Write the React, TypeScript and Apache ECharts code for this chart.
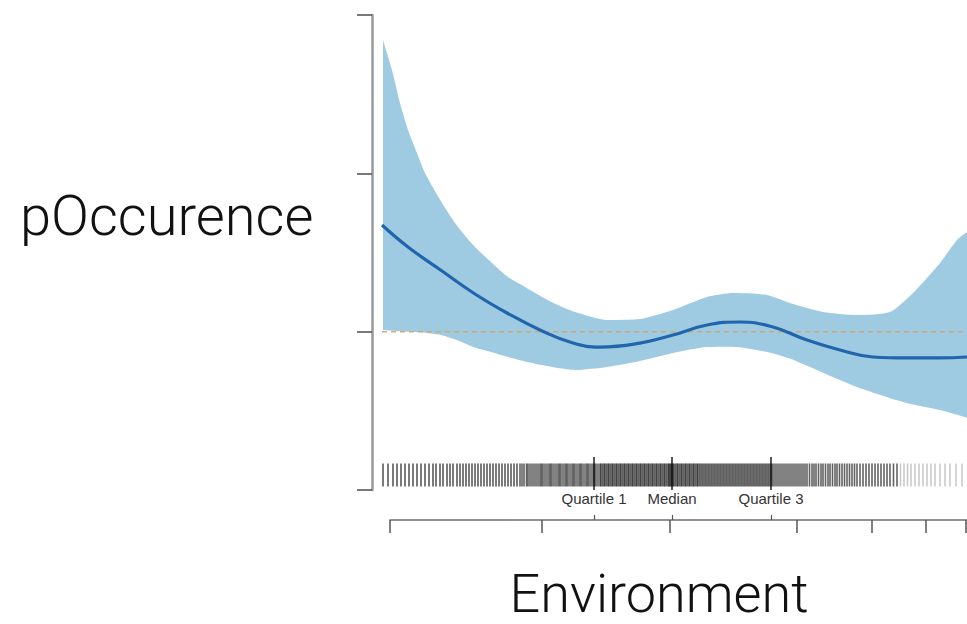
import React, { useEffect, useRef } from "react";
import * as echarts from "echarts";

// x positions are in environment units (0..587 across the plot)
const bandX = [3, 12, 20, 28, 37, 45, 62, 78, 95, 112, 128, 145, 162, 178, 195, 227, 260, 293, 327, 353, 387, 410, 443, 477, 510, 533, 560, 577, 587];
const bandUpper = [2.842, 2.653, 2.444, 2.274, 2.128, 2.002, 1.813, 1.661, 1.535, 1.434, 1.345, 1.282, 1.219, 1.168, 1.124, 1.074, 1.08, 1.137, 1.219, 1.244, 1.232, 1.181, 1.124, 1.105, 1.124, 1.244, 1.434, 1.579, 1.629];
const bandLower = [1.011, 1.006, 1.003, 1.0, 0.998, 0.993, 0.978, 0.945, 0.9, 0.87, 0.84, 0.812, 0.789, 0.77, 0.758, 0.777, 0.815, 0.865, 0.903, 0.905, 0.872, 0.83, 0.74, 0.65, 0.58, 0.54, 0.505, 0.475, 0.455];

const lineX = [2, 28, 62, 95, 127, 160, 193, 220, 260, 293, 327, 360, 393, 427, 460, 493, 527, 560, 587];
const lineY = [1.674, 1.535, 1.383, 1.238, 1.118, 1.011, 0.928, 0.903, 0.928, 0.979, 1.042, 1.061, 1.029, 0.947, 0.884, 0.84, 0.834, 0.834, 0.84];

const baselineY = 1;

const rugSparse = [3, 8, 13, 17, 21, 25, 29, 33, 37, 41, 45, 49, 53, 56, 60, 63, 67, 70, 73, 77, 80, 83, 86, 89, 92, 95, 98, 101, 104, 107, 110, 113, 116, 119, 122, 125, 128, 131, 134, 137];
const rugDense = [
  140, 142, 144, 146.5, 148, 150, 152, 154, 156, 158, 160, 161.5, 163, 165, 167, 169, 170.5, 172, 174, 176, 178, 179.5, 181, 183, 185, 186.5, 188, 190, 192, 193.5, 195, 197, 199, 200.5, 202, 204, 206, 207.5, 209, 211, 213, 214.5, 216, 218, 220,
  221, 222.5, 224, 225, 226.5, 228, 229, 230.5, 232, 233, 234.5, 236, 237, 238.5, 240, 241, 242.5, 244, 245, 246.5, 248, 249, 250.5, 252, 253, 254.5, 256, 257, 258.5, 260, 261, 262.5, 264, 265, 266.5, 268, 269, 270.5, 272, 273, 274.5, 276, 277, 278.5, 280, 281, 282.5, 284, 285, 286.5, 288, 289, 290, 291, 292, 293, 294, 295.5, 297, 298, 299.5, 301, 302, 303.5, 305, 306, 307.5, 309, 310, 311.5, 313, 314, 315.5, 317, 318, 319.5,
  321, 322.5, 324, 325.5, 327, 328.5, 330, 331.5, 333, 334.5, 336, 337.5, 339, 340.5, 342, 343.5, 345, 346.5, 348, 349.5, 351, 352.5, 354, 355.5, 357, 358.5, 360, 361.5, 363, 364.5, 366, 367.5, 369, 370.5, 372, 373.5, 375, 376.5, 378, 379.5, 381, 382.5, 384, 385.5, 387, 388.5, 390, 391.5, 393, 395, 397, 399, 401, 403, 405, 407, 409, 411, 413, 415, 417, 419,
  421, 423, 425, 427, 429.5, 432, 434, 436, 438.5, 441, 443, 445.5, 448, 450, 452.5, 455, 457, 459.5, 462, 464.5, 467, 469.5, 472, 474.5, 477, 480, 483, 486, 489, 492, 495, 498, 501, 504, 507, 510, 513.5, 517
];
const rugFaint = [520.5, 524, 527.5, 531, 535, 539, 543, 547, 551, 555, 560, 565, 570, 576, 582];
const rugY = 0.095;

const quartileX = [214, 292, 391];
const quartileLabels = ["Quartile 1", "Median", "Quartile 3"];
const quartileY = 0.104;

const xTicks = [10, 162, 290, 417, 492, 546, 586];

const yLabel = "pOccurence";
const xLabel = "Environment";

export default function App() {
  const ref = useRef<HTMLDivElement>(null);
  useEffect(() => {
    if (!ref.current) return;
    const chart = echarts.init(ref.current, undefined, { renderer: "svg" });
    const upperData = bandX.map((x, i) => [x, bandUpper[i]]);
    const lowerData = bandX.map((x, i) => [x, bandLower[i]]);
    const lineData = lineX.map((x, i) => [x, lineY[i]]);
    const toRug = (arr: number[]) => arr.map((x) => [x, rugY]);
    const hiddenAxis = { show: false };
    const option: any = {
      animation: false,
      backgroundColor: "#ffffff",
      grid: [
        { left: 380, right: 0, top: 15, bottom: 134 },
        { left: 390, right: 0, top: 519, height: 1 },
        { left: 372, width: 10, top: 15, bottom: 134 },
      ],
      xAxis: [
        { gridIndex: 0, type: "value", min: 0, max: 587, show: false },
        {
          gridIndex: 1, type: "value", min: 10, max: 587, position: "bottom",
          axisLine: { show: true, lineStyle: { color: "#6e6e6e", width: 1.5 } },
          axisTick: { show: true, customValues: xTicks, length: 13, lineStyle: { color: "#555", width: 1.5 } },
          axisLabel: { show: false }, splitLine: { show: false },
        },
        {
          gridIndex: 1, type: "value", min: 10, max: 587, position: "bottom",
          axisLine: { show: false },
          axisTick: { show: true, inside: true, customValues: quartileX, length: 5, lineStyle: { color: "#555", width: 1.2 } },
          axisLabel: { show: false }, splitLine: { show: false },
        },
        { gridIndex: 2, type: "value", min: 0, max: 1, show: false },
      ],
      yAxis: [
        { gridIndex: 0, type: "value", min: 0, max: 3, interval: 1, ...hiddenAxis },
        { gridIndex: 1, type: "value", ...hiddenAxis },
        {
          gridIndex: 2, type: "value", min: 0, max: 3, interval: 1, position: "left",
          axisLine: { show: true, lineStyle: { color: "#999999", width: 2.5 } },
          axisTick: { show: true, length: 15, lineStyle: { color: "#4d4d4d", width: 1.5 } },
          axisLabel: { show: false }, splitLine: { show: false },
        },
      ],
      series: [
        {
          type: "line", xAxisIndex: 0, yAxisIndex: 0, data: upperData, z: 1,
          smooth: 0.22, symbol: "none", lineStyle: { opacity: 0 },
          areaStyle: { color: "#9fcbe2", opacity: 1, origin: "start" }, silent: true,
        },
        {
          type: "line", xAxisIndex: 0, yAxisIndex: 0, data: lowerData, z: 1,
          smooth: 0.22, symbol: "none", lineStyle: { opacity: 0 },
          areaStyle: { color: "#ffffff", opacity: 1, origin: "start" }, silent: true,
        },
        {
          type: "line", xAxisIndex: 0, yAxisIndex: 0, data: [[2, baselineY], [587, baselineY]], z: 3,
          symbol: "none", lineStyle: { color: "#d2a468", width: 1.5, type: [5, 4], opacity: 0.9 }, silent: true,
        },
        {
          type: "line", xAxisIndex: 0, yAxisIndex: 0, data: lineData, z: 4,
          smooth: 0.45, symbol: "none", lineStyle: { color: "#2166ac", width: 3.2 }, silent: true,
        },
        {
          type: "scatter", xAxisIndex: 0, yAxisIndex: 0, data: toRug(rugSparse), z: 5,
          symbol: "rect", symbolSize: [1.9, 23], itemStyle: { color: "#000", opacity: 0.55 }, silent: true,
        },
        {
          type: "scatter", xAxisIndex: 0, yAxisIndex: 0, data: toRug(rugDense), z: 5,
          symbol: "rect", symbolSize: [1.6, 23], itemStyle: { color: "#000", opacity: 0.62 }, silent: true,
        },
        {
          type: "scatter", xAxisIndex: 0, yAxisIndex: 0, data: toRug(rugFaint), z: 5,
          symbol: "rect", symbolSize: [1.5, 23], itemStyle: { color: "#000", opacity: 0.22 }, silent: true,
        },
        {
          type: "scatter", xAxisIndex: 0, yAxisIndex: 0, z: 6,
          data: quartileX.map((x, i) => ({ value: [x, quartileY], name: quartileLabels[i] })),
          symbol: "rect", symbolSize: [1.4, 33], itemStyle: { color: "#111", opacity: 1 }, silent: true,
          label: {
            show: true, position: "bottom", distance: 1, formatter: "{b}",
            fontSize: 15, color: "#333", fontFamily: "Liberation Sans, Arial, sans-serif",
          },
        },
      ],
      graphic: [
        {
          type: "text", x: 20, y: 216,
          style: { text: yLabel, fontSize: 56, fontFamily: "Roboto, Liberation Sans, sans-serif", fontWeight: 300, fill: "#111", textVerticalAlign: "middle", textAlign: "left" },
        },
        {
          type: "text", x: 659, y: 593,
          style: { text: xLabel, fontSize: 54, fontFamily: "Roboto, Liberation Sans, sans-serif", fontWeight: 300, fill: "#111", textVerticalAlign: "middle", textAlign: "center" },
        },
      ],
    };
    chart.setOption(option);
    return () => chart.dispose();
  }, []);
  return <div ref={ref} style={{ position: "absolute", left: 0, top: 0, width: 967, height: 624 }} />;
}
